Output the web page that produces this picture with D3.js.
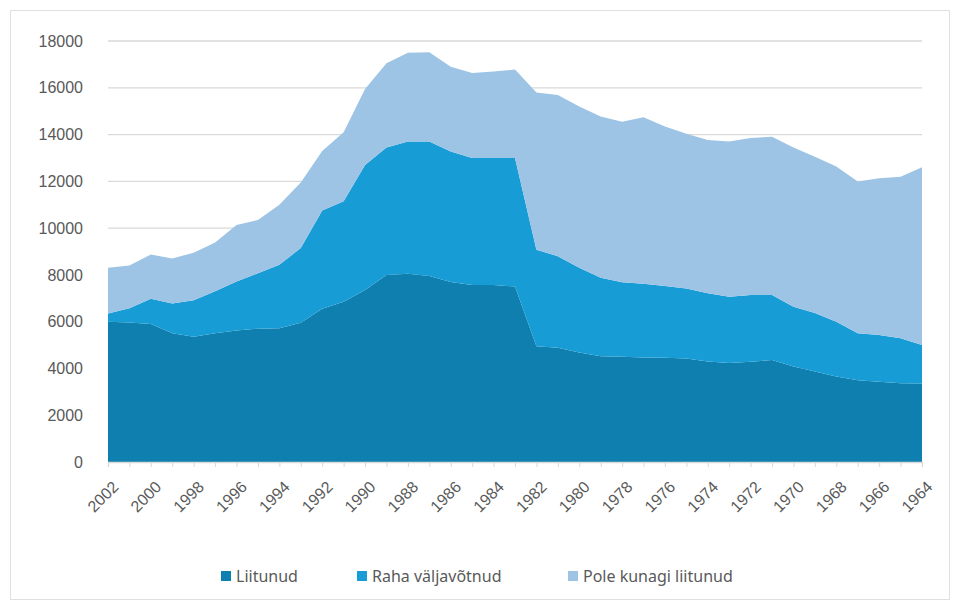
<!DOCTYPE html>
<html>
<head>
<meta charset="utf-8">
<script src="https://cdn.jsdelivr.net/npm/d3@7"></script>
<style>
  body { margin: 0; background: #fff; }
  svg { font-family: "Noto Sans", "Open Sans", sans-serif; }
  .grid line { stroke: #d9d9d9; stroke-width: 1.3; }
  .label { fill: #595959; font-size: 16px; }
</style>
</head>
<body>
<div id="chart"></div>
<script>
// Years run backwards, 2002 down to 1964
var years = d3.range(2002, 1963, -1);

var liitunud = [6000, 5960, 5900, 5500, 5350, 5500, 5620, 5700, 5720, 5950,
                6550, 6850, 7350, 8000, 8050, 7950, 7700, 7570, 7570, 7500,
                4950, 4880, 4680, 4520, 4500, 4470, 4460, 4420, 4300, 4230,
                4290, 4360, 4080, 3870, 3660, 3500, 3430, 3370, 3360];

var raha = [350, 610, 1080, 1280, 1570, 1800, 2100, 2370, 2710, 3200,
            4200, 4300, 5350, 5450, 5650, 5750, 5580, 5430, 5430, 5500,
            4130, 3920, 3620, 3360, 3180, 3150, 3070, 3000, 2920, 2840,
            2850, 2780, 2560, 2500, 2340, 2000, 2000, 1920, 1640];

var pole = [1950, 1830, 1890, 1920, 2030, 2080, 2410, 2280, 2570, 2800,
            2550, 2950, 3250, 3600, 3800, 3820, 3620, 3630, 3700, 3780,
            6720, 6890, 6900, 6890, 6870, 7120, 6810, 6610, 6550, 6630,
            6710, 6770, 6810, 6680, 6630, 6490, 6700, 6910, 7600];

var seriesNames = ["Liitunud", "Raha väljavõtnud", "Pole kunagi liitunud"];
var colors = ["#0e7fae", "#179cd6", "#9dc4e5"];
var yTicks = d3.range(0, 18001, 2000);

var width = 960, height = 604;
var margin = {top: 41, right: 38, bottom: 142, left: 108};

var rows = years.map(function(yr, i) {
  return {year: yr, "Liitunud": liitunud[i], "Raha väljavõtnud": raha[i], "Pole kunagi liitunud": pole[i]};
});

var x = d3.scalePoint()
  .domain(years)
  .range([margin.left, width - margin.right]);

var y = d3.scaleLinear()
  .domain([0, 18000])
  .range([height - margin.bottom, margin.top]);

var svg = d3.select("#chart").append("svg")
  .attr("width", width)
  .attr("height", height);

// chart frame
svg.append("rect")
  .attr("x", 10.5).attr("y", 10.5)
  .attr("width", 939).attr("height", 589)
  .attr("fill", "none")
  .attr("stroke", "#e0e0e0");

// gridlines
svg.append("g")
  .attr("class", "grid")
  .selectAll("line")
  .data(yTicks.filter(function(d) { return d > 0; }))
  .join("line")
    .attr("x1", margin.left)
    .attr("x2", width - margin.right)
    .attr("y1", function(d) { return y(d); })
    .attr("y2", function(d) { return y(d); });

// stacked areas
var stack = d3.stack().keys(seriesNames);
var layers = stack(rows);

var area = d3.area()
  .x(function(d) { return x(d.data.year); })
  .y0(function(d) { return y(d[0]); })
  .y1(function(d) { return y(d[1]); });

svg.append("g")
  .selectAll("path")
  .data(layers)
  .join("path")
    .attr("fill", function(d, i) { return colors[i]; })
    .attr("d", area);

// Y axis labels
var yAxis = d3.axisLeft(y)
  .tickValues(yTicks)
  .tickSize(0)
  .tickPadding(0)
  .tickFormat(d3.format("d"));

var gy = svg.append("g")
  .attr("transform", "translate(" + (margin.left - 25) + ",0)")
  .call(yAxis);
gy.select(".domain").remove();
gy.selectAll("text").attr("class", "label").attr("fill", null).style("font-size", "16px");

// X axis
var xAxis = d3.axisBottom(x)
  .tickSize(5)
  .tickFormat(function(d) { return (2002 - d) % 2 === 0 ? d : ""; });

var gx = svg.append("g")
  .attr("transform", "translate(0," + y(0) + ")")
  .call(xAxis);
gx.select(".domain").attr("stroke", "#d9d9d9").attr("stroke-width", 1.3);
gx.selectAll(".tick line").attr("stroke", "#d9d9d9");
gx.selectAll("text")
  .attr("class", "label")
  .attr("fill", null)
  .style("font-size", "16px")
  .attr("text-anchor", "end")
  .attr("dy", "0.35em")
  .attr("transform", "translate(7,22) rotate(-45)")
  .attr("y", 0)
  .attr("x", 0);

// legend
var legendX = [221, 357, 568];
var legend = svg.append("g")
  .selectAll("g")
  .data(seriesNames)
  .join("g")
    .attr("transform", function(d, i) { return "translate(" + legendX[i] + ",576)"; });

legend.append("rect")
  .attr("x", 0).attr("y", -5)
  .attr("width", 10).attr("height", 10)
  .attr("fill", function(d, i) { return colors[i]; });

legend.append("text")
  .attr("class", "label")
  .attr("x", 15)
  .attr("dy", "0.35em")
  .text(function(d) { return d; });
</script>
</body>
</html>
